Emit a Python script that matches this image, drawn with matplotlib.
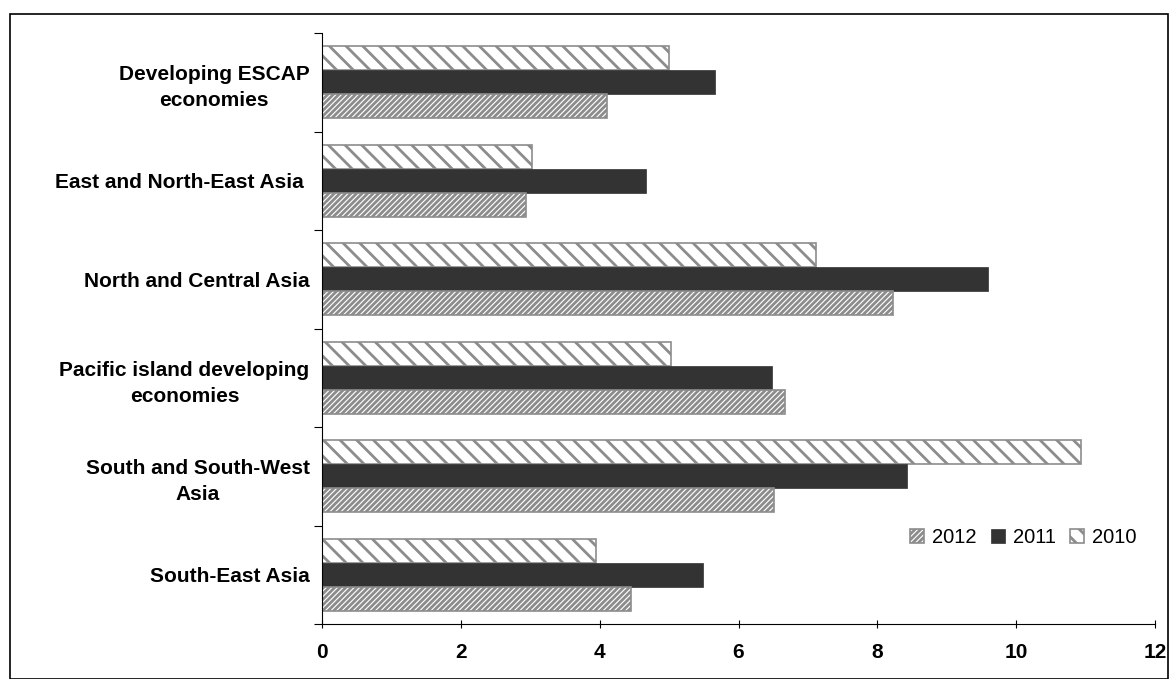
import numpy as np
import matplotlib
matplotlib.use("Agg")
import matplotlib.pyplot as plt
from matplotlib.patches import Rectangle

plt.rcParams['font.family'] = ['Liberation Sans', 'DejaVu Sans']
plt.rcParams['hatch.linewidth'] = 2.0

# Daten (von oben nach unten)
regionen = [
    "Developing ESCAP\neconomies",
    "East and North-East Asia ",
    "North and Central Asia",
    "Pacific island developing\neconomies",
    "South and South-West\nAsia",
    "South-East Asia",
]
werte_2010 = [5.0, 3.03, 7.12, 5.03, 10.94, 3.95]
werte_2011 = [5.66, 4.67, 9.6, 6.48, 8.43, 5.49]
werte_2012 = [4.1, 2.94, 8.23, 6.67, 6.51, 4.45]

fig = plt.figure(figsize=(11.74, 6.79), dpi=100)
ax = fig.add_axes([322 / 1174, 1 - 624 / 679, (1155 - 322) / 1174, (624 - 33) / 679])

# Rahmen um die ganze Grafik
fig.patches.append(Rectangle((10 / 1174, 0), 1158 / 1174, 1 - 14 / 679,
                             transform=fig.transFigure, fill=False,
                             edgecolor='black', linewidth=1.2))

n = len(regionen)
y = np.arange(n)[::-1] + 0.5
h = 0.245

b10 = ax.barh(y + h, werte_2010, height=h, color='white', edgecolor='#8c8c8c',
              hatch='\\\\', linewidth=1.2, label='2010')
b11 = ax.barh(y, werte_2011, height=h, color='#333333', edgecolor='#333333',
              linewidth=0.5, label='2011')
b12 = ax.barh(y - h, werte_2012, height=h, color='white', edgecolor='#8c8c8c',
              hatch='//////', linewidth=1.2, label='2012')

ax.set_xlim(0, 12)
ax.set_ylim(0, n)
ax.set_xticks(range(0, 13, 2))
ax.set_yticks(np.arange(n + 1))
ax.set_yticklabels([])
ax.set_yticks(y, minor=True)
ax.set_yticklabels(regionen, minor=True, fontsize=15, fontweight='bold',
                   ha='right', multialignment='center', linespacing=1.45)
ax.tick_params(axis='y', which='minor', length=0, pad=9)
ax.tick_params(axis='y', which='major', length=6, direction='out')
ax.tick_params(axis='x', length=6, direction='inout', labelsize=15, pad=11)
for lbl in ax.get_xticklabels():
    lbl.set_fontweight('bold')

ax.spines['top'].set_visible(False)
ax.spines['right'].set_visible(False)

ax.legend(handles=[b12, b11, b10], loc='lower right', bbox_to_anchor=(1.0, 0.1),
          ncol=3, frameon=False, fontsize=14.5, handlelength=0.7, handleheight=0.7,
          handletextpad=0.4, columnspacing=0.7)

plt.savefig("out.png", dpi=100)
